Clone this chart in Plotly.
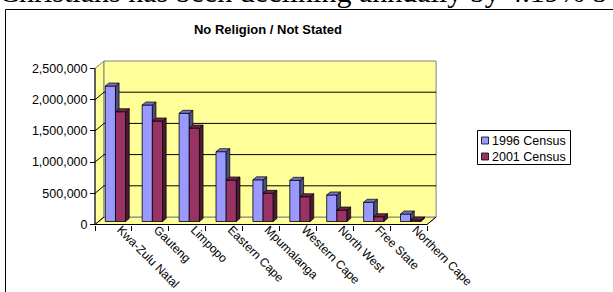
import plotly.graph_objects as go

# ---------------- data ----------------
categories = ["Kwa-Zulu Natal", "Gauteng", "Limpopo", "Eastern Cape", "Mpumalanga",
              "Western Cape", "North West", "Free State", "Northern Cape"]
census_1996 = [2171000, 1867000, 1734000, 1119000, 668000, 660000, 425000, 308000, 120000]
census_2001 = [1760000, 1611000, 1498000, 665000, 452000, 397000, 184000, 77000, 24000]
series_names = ["1996 Census", "2001 Census"]
y_ticks = [0, 500000, 1000000, 1500000, 2000000, 2500000]
title_text = "No Religion / Not Stated"
top_text = "Christians has been declining annually by 4.19% b"

# ---------------- geometry / style ----------------
W, H = 613, 292
ML, MR, MT, MB = 85, 168, 55, 62
PW, PH = W - ML - MR, H - MT - MB
PX_CAT = 36.9                    # px per category
VPX = 2500000 / 156.0            # value per px
FRONT_X = 95                     # px of front axis
FRONT_Y0 = 224.5                 # px of front zero
n = len(categories)
xr = [-0.5 - (FRONT_X - ML) / PX_CAT, -0.5 + (ML + PW - FRONT_X) / PX_CAT]
yr = [-((MT + PH) - FRONT_Y0) * VPX, (FRONT_Y0 - MT) * VPX]
LABEL_SHIFT = 7 / PX_CAT         # category labels start a little right of the centre
xr2 = [xr[0] - LABEL_SHIFT, xr[1] - LABEL_SHIFT]
DX = 9 / PX_CAT                  # full floor depth in x units
DY = 7.5 * VPX                   # full floor depth in value units
BAR_D0, BAR_D1 = 0.4, 0.8
bw = 0.276
offsets = [-0.221, -0.221 + bw]
front_cols = ["#9999FF", "#993366"]
side_cols = ["#4D4D80", "#4D1A33"]
top_cols = ["#7373C0", "#73264D"]
wall_col = "#FFFF99"
FONT = "Liberation Sans, Arial, sans-serif"

def px2paper_x(p):
    return (p - ML) / PW

def px2paper_y(p):
    return (MT + PH - p) / PH

def clip_above(poly, c):
    out = []
    m = len(poly)
    for k in range(m):
        P, Q = poly[k], poly[(k + 1) % m]
        pin, qin = P[1] >= c, Q[1] >= c
        if pin:
            out.append(P)
        if pin != qin:
            t = (c - P[1]) / (Q[1] - P[1])
            out.append((P[0] + t * (Q[0] - P[0]), c))
    return out

fig = go.Figure()
series = [census_1996, census_2001]
base = BAR_D0 * DY
ddx = (BAR_D1 - BAR_D0) * DX
ddy = (BAR_D1 - BAR_D0) * DY

for s, vals in enumerate(series):
    fig.add_trace(go.Bar(
        x=list(range(n)), y=vals, base=[base] * n, offset=offsets[s], width=bw,
        name=series_names[s], marker=dict(color=front_cols[s], line=dict(color="black", width=0.8)),
        showlegend=False, hoverinfo="skip"))

for s, vals in enumerate(series):
    sx, sy, tx, ty = [], [], [], []
    for i, v in enumerate(vals):
        xl = i + offsets[s]
        xrt = xl + bw
        top = base + v
        side = [(xrt, base), (xrt, top), (xrt + ddx, top + ddy), (xrt + ddx, base + ddy)]
        if s == 0:
            side = clip_above(side, base + series[1][i])
        for p in side + [side[0]]:
            sx.append(p[0]); sy.append(p[1])
        sx.append(None); sy.append(None)
        tp = [(xl, top), (xrt, top), (xrt + ddx, top + ddy), (xl + ddx, top + ddy), (xl, top)]
        for p in tp:
            tx.append(p[0]); ty.append(p[1])
        tx.append(None); ty.append(None)
    fig.add_trace(go.Scatter(x=sx, y=sy, mode="lines", fill="toself", fillcolor=side_cols[s],
                             line=dict(color="black", width=0.7), showlegend=False, hoverinfo="skip"))
    fig.add_trace(go.Scatter(x=tx, y=ty, mode="lines", fill="toself", fillcolor=top_cols[s],
                             line=dict(color="black", width=0.7), showlegend=False, hoverinfo="skip"))

# ---------------- walls & gridlines ----------------
x0, x1 = -0.5, n - 0.5
ymax = y_ticks[-1]
shapes = []
def path(pts):
    return "M " + " L ".join(f"{a},{b}" for a, b in pts) + " Z"
shapes.append(dict(type="path", path=path([(x0, 0), (x1, 0), (x1 + DX, DY), (x0 + DX, DY)]),
                   xref="x", yref="y", fillcolor=wall_col, line=dict(color="#808080", width=1), layer="below"))
shapes.append(dict(type="path", path=path([(x0, 0), (x0, ymax), (x0 + DX, ymax + DY), (x0 + DX, DY)]),
                   xref="x", yref="y", fillcolor=wall_col, line=dict(color="#808080", width=1), layer="below"))
shapes.append(dict(type="rect", x0=x0 + DX, x1=x1 + DX, y0=DY, y1=ymax + DY,
                   xref="x", yref="y", fillcolor=wall_col, line=dict(color="#808080", width=1), layer="below"))
for v in y_ticks[1:-1]:
    shapes.append(dict(type="line", x0=x0 + DX, x1=x1 + DX, y0=v + DY, y1=v + DY, xref="x", yref="y",
                       line=dict(color="black", width=1), layer="below"))
for v in y_ticks[:-1]:
    shapes.append(dict(type="line", x0=x0, x1=x0 + DX, y0=v, y1=v + DY, xref="x", yref="y",
                       line=dict(color="black", width=1), layer="below"))
shapes.append(dict(type="line", x0=x0, x1=x0, y0=0, y1=ymax, xref="x", yref="y",
                   line=dict(color="black", width=1), layer="below"))
shapes.append(dict(type="line", x0=x0, x1=x1, y0=0, y1=0, xref="x", yref="y",
                   line=dict(color="black", width=1), layer="below"))
shapes.append(dict(type="line", x0=x1, x1=x1 + DX, y0=0, y1=DY, xref="x", yref="y",
                   line=dict(color="black", width=1), layer="below"))
# outer chart frame
shapes.append(dict(type="rect", xref="paper", yref="paper",
                   x0=px2paper_x(5.5), x1=px2paper_x(640), y0=px2paper_y(320), y1=px2paper_y(9.5),
                   line=dict(color="black", width=1), fillcolor="rgba(0,0,0,0)", layer="below"))

# ---------------- legend (drawn box) ----------------
LEG_L, LEG_T, LEG_R, LEG_B = 477.5, 130.5, 570.5, 164.5
ROW_Y = [140.5, 156.5]
shapes.append(dict(type="rect", xref="paper", yref="paper",
                   x0=px2paper_x(LEG_L), x1=px2paper_x(LEG_R), y0=px2paper_y(LEG_B), y1=px2paper_y(LEG_T),
                   line=dict(color="black", width=1), fillcolor="white", layer="above"))
annotations = []
for s in range(2):
    shapes.append(dict(type="rect", xref="paper", yref="paper",
                       x0=px2paper_x(481.5), x1=px2paper_x(488.5),
                       y0=px2paper_y(ROW_Y[s] + 3.5), y1=px2paper_y(ROW_Y[s] - 3.5),
                       line=dict(color="black", width=0.8), fillcolor=front_cols[s], layer="above"))
    annotations.append(dict(text=series_names[s], xref="paper", yref="paper",
                            x=px2paper_x(490), y=px2paper_y(ROW_Y[s]), xanchor="left", yanchor="middle",
                            showarrow=False, font=dict(family=FONT, size=12.5, color="black")))

annotations.append(dict(text=top_text, xref="paper", yref="paper", x=px2paper_x(-3), y=px2paper_y(10.5),
                        xanchor="left", yanchor="bottom", showarrow=False,
                        font=dict(family="Liberation Serif, Times New Roman, serif", size=30, color="black")))

fig.update_layout(
    width=W, height=H, margin=dict(l=ML, r=MR, t=MT, b=MB, pad=0, autoexpand=False),
    paper_bgcolor="white", plot_bgcolor="rgba(0,0,0,0)",
    font=dict(family=FONT, size=12.5, color="black"),
    barmode="overlay", shapes=shapes, showlegend=False,
    xaxis=dict(range=xr, anchor="free", position=px2paper_y(FRONT_Y0), showgrid=False, zeroline=False,
               showline=False, tickmode="array", tickvals=[k - 0.5 for k in range(n + 1)],
               ticks="outside", ticklen=5, tickcolor="black", showticklabels=False, fixedrange=True,
               automargin=False),
    xaxis2=dict(range=xr2, overlaying="x", anchor="free", position=px2paper_y(FRONT_Y0 - 5), side="bottom",
                showgrid=False, zeroline=False, showline=False, tickmode="array",
                tickvals=list(range(n)), ticktext=categories, ticks="", ticklen=0, tickangle=45,
                automargin=False, tickfont=dict(family=FONT, size=12, color="black")),
    yaxis=dict(range=yr, anchor="free", position=px2paper_x(FRONT_X), showgrid=False, zeroline=False,
               showline=False, tickmode="array", tickvals=y_ticks, tickformat=",",
               ticks="outside", ticklen=5, tickcolor="black", automargin=False,
               tickfont=dict(family=FONT, size=12.5, color="black")),
    title=dict(text="<b>" + title_text + "</b>", x=268 / W, xanchor="center", xref="container",
               y=1 - 29 / H, yanchor="middle", yref="container",
               font=dict(family=FONT, size=13, color="black")),
    annotations=annotations,
)
# dummy trace to activate xaxis2
fig.add_trace(go.Scatter(x=[None], y=[None], xaxis="x2", showlegend=False, hoverinfo="skip"))

fig.write_html("out.html", config={"displayModeBar": False, "staticPlot": True},
               post_script="document.body.style.margin='0';document.body.style.padding='0';"
                           "document.body.style.overflow='hidden';")
